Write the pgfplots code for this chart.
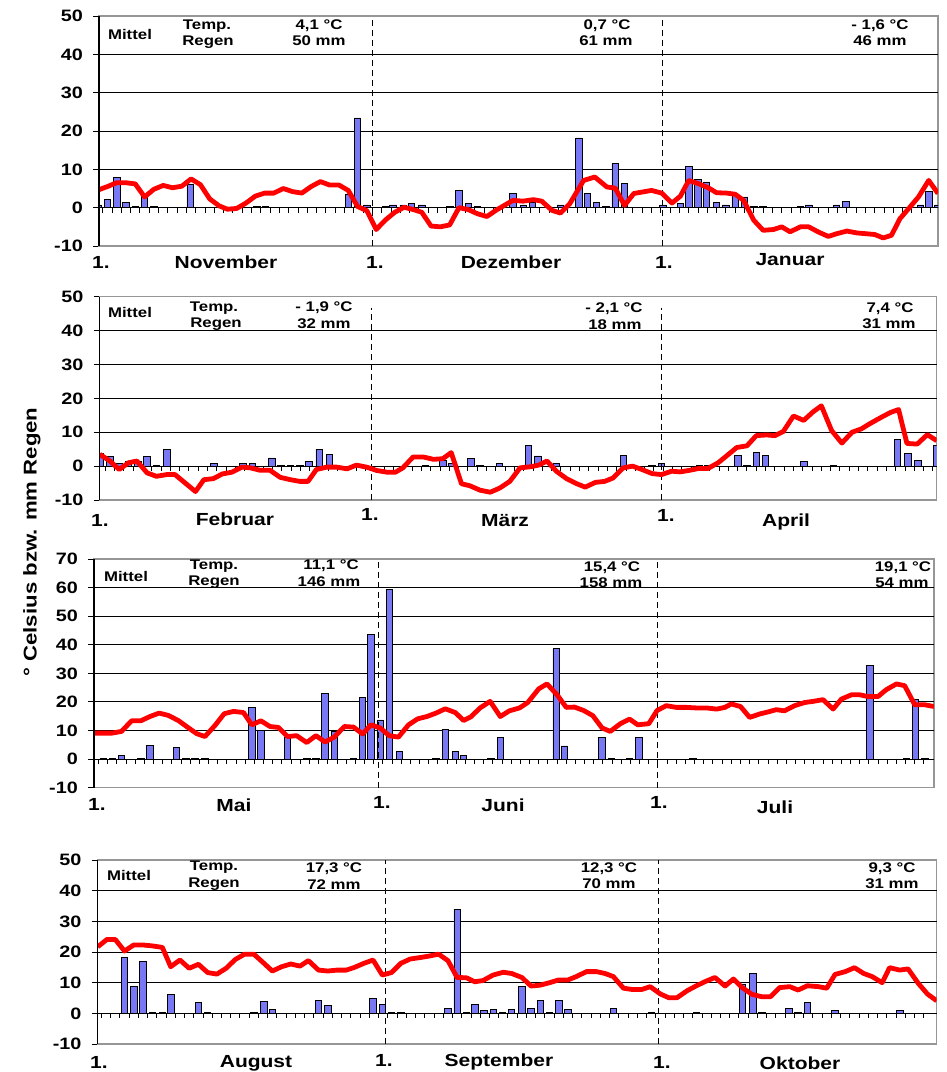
\documentclass[border=0pt]{standalone}
\usepackage{fontspec}
\setmainfont{Liberation Sans}[FakeStretch=1.2]
\usepackage{pgfplots}
\pgfplotsset{compat=1.18}
\definecolor{barblue}{RGB}{120,120,245}
\definecolor{framegray}{RGB}{150,150,150}
\pgfplotsset{
 panel/.style={
  scale only axis, anchor=south west,
  xmin=0, ymin=-10,
  axis line style={draw=framegray, line width=1.5pt},
  xtick=\empty,
  ytick pos=left,
  tick align=outside,
  major tick length=6pt,
  y tick style={black, line width=1pt},
  yticklabel style={font=\fontsize{16.5}{16.5}\selectfont\bfseries, anchor=east, inner sep=0pt, xshift=-10pt},
  clip mode=individual,
 },
 bars/.style={ybar, bar width=0.7, fill=barblue, draw=black, line width=0.8pt},
 temp/.style={red, line width=4.8pt, line join=round, mark=none},
}
\tikzset{
 grd/.style={black, line width=1pt},
 dsh/.style={black, line width=1pt, dash pattern=on 6pt off 4pt},
 tt/.style={anchor=base, font=\fontsize{14}{14}\selectfont\bfseries},
 ml/.style={anchor=base, font=\fontsize{17.5}{17.5}\selectfont\bfseries},
}
\begin{document}
\begin{tikzpicture}
\useasboundingbox (0,0) rectangle (947pt,-1072pt);

% ---------------- Panel 1: Nov - Jan
\begin{axis}[panel, at={(99pt,-246pt)}, width=839pt, height=230pt,
  xmax=90.2, ymax=50, ytick={-10,0,10,20,30,40,50}, yticklabels={-10,0,10,20,30,40,50}]
\pgfplotsinvokeforeach{10,20,30,40}{\draw[grd] (0,#1) -- (90.2,#1);}
\draw[grd] (0,0) -- (90.2,0);
\pgfplotsinvokeforeach{0,...,89}{\draw[grd] (#1.4,0) -- ++(0pt,-5pt);}
\addplot[bars] coordinates {(-0.1,0.7) (0.9,2.1) (1.9,8.0) (2.9,1.4) (3.9,0.3) (4.9,3.0) (5.9,0.3) (9.8,6.0) (17.0,0.3) (17.9,0.3) (26.8,3.5) (27.8,23.4) (28.8,0.7) (30.8,0.3) (31.6,0.7) (32.7,0.7) (33.6,1.0) (34.7,0.7) (37.7,0.3) (38.7,4.5) (39.7,1.0) (40.7,0.3) (44.5,3.8) (45.6,0.7) (46.6,1.3) (49.6,0.7) (51.6,18.2) (52.5,3.8) (53.5,1.4) (54.5,0.3) (55.5,11.5) (56.5,6.3) (60.6,0.7) (62.5,1.0) (63.4,10.8) (64.4,7.3) (65.3,6.7) (66.4,1.4) (67.4,0.7) (68.4,3.2) (69.4,2.8) (70.4,0.3) (71.4,0.3) (75.4,0.3) (76.3,0.7) (79.3,0.7) (80.3,1.7) (88.3,0.7) (89.2,4.2) (90.2,0.7)};
\draw[dsh] (29.4,-10) -- (29.4,50);
\draw[dsh] (60.6,-10) -- (60.6,50);
\addplot[temp] coordinates {(0,4.7) (0.9,5.5) (1.9,6.5) (2.9,6.5) (3.9,6.2) (4.9,2.8) (5.9,4.8) (6.9,5.8) (7.9,5.2) (8.9,5.6) (9.9,7.5) (10.9,6.0) (11.9,2.3) (12.9,0.5) (13.8,-0.4) (14.8,-0.2) (15.8,1.2) (16.8,3.0) (17.8,3.8) (18.8,3.8) (19.8,5.0) (20.8,4.2) (21.8,3.8) (22.8,5.5) (23.8,6.8) (24.8,5.9) (25.8,5.9) (26.8,4.5) (27.8,0.3) (28.8,-0.8) (29.8,-5.7) (30.8,-3.2) (31.8,-1.2) (32.8,0.1) (33.8,-0.5) (34.7,-1.2) (35.7,-4.8) (36.7,-5.0) (37.7,-4.5) (38.7,0) (39.7,-0.5) (40.7,-1.6) (41.7,-2.3) (42.8,-0.5) (44.5,1.9) (45.6,1.7) (46.7,2.1) (47.6,1.7) (48.7,-0.7) (49.6,-1.4) (50.6,1.0) (52.1,7.1) (53.3,8.0) (54.6,5.4) (55.5,5.1) (56.5,0.6) (57.5,3.7) (59.4,4.5) (60.5,3.8) (61.6,1.2) (62.5,3.0) (63.4,7.1) (64.4,6.3) (65.5,5.2) (66.4,3.9) (67.5,3.8) (68.4,3.5) (69.3,1.9) (70.4,-3.3) (71.4,-5.9) (72.5,-5.7) (73.4,-5.0) (74.3,-6.3) (75.4,-5.0) (76.3,-5.0) (77.3,-6.3) (78.4,-7.5) (79.3,-6.8) (80.4,-6.1) (81.5,-6.6) (82.5,-6.8) (83.4,-7.0) (84.3,-7.9) (85.2,-7.2) (86.1,-2.9) (87.2,0.2) (88.1,2.8) (89.2,7.1) (90.2,3.7)};
\draw[black, line width=1.5pt] (rel axis cs:0,0) -- (rel axis cs:0,1);
\end{axis}
\node[tt] at (130pt,-39.5pt) {Mittel};
\node[tt] at (207pt,-29.5pt) {Temp.};
\node[tt] at (208pt,-45.5pt) {Regen};
\node[tt] at (319pt,-29.5pt) {4,1 °C};
\node[tt] at (319pt,-45.5pt) {50 mm};
\node[tt] at (607pt,-29.5pt) {0,7 °C};
\node[tt] at (606pt,-45.5pt) {61 mm};
\node[tt] at (880pt,-29.5pt) {- 1,6 °C};
\node[tt] at (880pt,-45.5pt) {46 mm};
\node[ml] at (101pt,-268pt) {1.};
\node[ml] at (226pt,-268pt) {November};
\node[ml] at (375pt,-268pt) {1.};
\node[ml] at (511pt,-268pt) {Dezember};
\node[ml] at (664pt,-268pt) {1.};
\node[ml] at (790pt,-265pt) {Januar};

% ---------------- Panel 2: Feb - Apr
\begin{axis}[panel, at={(99.7pt,-500pt)}, width=837pt, height=203.3pt,
  xmax=90.0, ymax=50, ytick={-10,0,10,20,30,40,50}, yticklabels={-10,0,10,20,30,40,50}]
\pgfplotsinvokeforeach{10,20,30,40}{\draw[grd] (0,#1) -- (90.0,#1);}
\draw[grd] (0,0) -- (90.0,0);
\pgfplotsinvokeforeach{0,...,89}{\draw[grd] (#1.6,0) -- ++(0pt,-5pt);}
\addplot[bars] coordinates {(0.1,3.8) (1.1,2.8) (2.1,0.9) (3.1,1.5) (4.1,1.3) (5.1,2.8) (6.1,0.3) (7.2,4.8) (12.3,0.7) (15.4,0.7) (16.4,0.7) (18.5,2.4) (19.5,0.3) (20.5,0.3) (21.5,0.3) (22.5,1.5) (23.6,5.0) (24.7,3.5) (35.0,0.3) (36.9,1.8) (37.8,0.7) (39.9,2.3) (40.9,0.3) (43.0,0.7) (46.1,6.0) (47.1,3.0) (49.1,0.7) (56.3,3.2) (59.4,0.3) (60.4,0.7) (64.5,0.3) (65.4,0.3) (68.6,3.2) (69.6,0.3) (70.6,4.0) (71.6,3.2) (75.7,1.3) (78.9,0.3) (85.8,8.0) (86.9,3.7) (88.0,1.6) (90.0,6.0)};
\draw[dsh] (29.2,-10) -- (29.2,46.7);
\draw[dsh] (60.4,-10) -- (60.4,46.7);
\addplot[temp] coordinates {(0,3.5) (1.1,1.5) (2.1,-1.0) (3.1,1.0) (4.0,1.5) (5.1,-2.0) (6.1,-3.0) (7.2,-2.5) (8.1,-2.5) (9.2,-5.0) (10.3,-7.5) (11.2,-4.0) (12.2,-3.7) (13.2,-2.3) (14.2,-1.8) (15.3,-0.3) (16.2,-0.5) (17.2,-1.2) (18.3,-1.2) (19.4,-3.3) (20.5,-4.0) (21.5,-4.5) (22.4,-4.5) (23.3,-1.0) (24.4,-0.3) (25.5,-0.3) (26.6,-0.8) (27.6,0.3) (28.7,-0.3) (29.8,-1.3) (30.9,-1.8) (31.8,-1.8) (32.6,-0.5) (33.7,2.7) (34.8,2.7) (35.9,2.0) (36.9,2.2) (37.8,4.0) (38.9,-5.2) (39.8,-5.8) (40.9,-7.1) (42.0,-7.7) (43.0,-6.5) (44.1,-4.5) (45.2,-0.5) (46.3,-0.2) (47.2,0.3) (48.1,1.5) (49.1,-1.5) (50.2,-3.7) (51.3,-5.2) (52.2,-6.2) (53.3,-4.8) (54.3,-4.5) (55.2,-3.5) (56.3,-0.5) (57.3,0) (58.3,-1.0) (59.4,-2.2) (60.4,-2.5) (61.5,-1.5) (62.4,-1.7) (63.3,-1.3) (64.4,-0.7) (65.4,-0.7) (66.5,1.0) (67.4,3.0) (68.5,5.5) (69.6,6.0) (70.6,9.0) (71.7,9.2) (72.6,9.0) (73.5,10.2) (74.6,14.8) (75.7,13.5) (76.7,16.0) (77.6,17.8) (78.7,10.5) (79.8,6.8) (80.9,10.0) (81.9,11.0) (82.8,12.5) (83.9,14.2) (85.0,15.8) (85.9,16.7) (86.8,6.7) (87.9,6.5) (89.0,9.3) (90.0,7.5)};
\draw[black, line width=1.5pt] (rel axis cs:0,0) -- (rel axis cs:0,1);
\end{axis}
\node[tt] at (130pt,-317.5pt) {Mittel};
\node[tt] at (214pt,-311pt) {Temp.};
\node[tt] at (216pt,-327.5pt) {Regen};
\node[tt] at (324pt,-311.5pt) {- 1,9 °C};
\node[tt] at (324pt,-328pt) {32 mm};
\node[tt] at (614pt,-312.5pt) {- 2,1 °C};
\node[tt] at (615pt,-329pt) {18 mm};
\node[tt] at (890pt,-312pt) {7,4 °C};
\node[tt] at (889pt,-328pt) {31 mm};
\node[ml] at (100pt,-526.5pt) {1.};
\node[ml] at (235pt,-525pt) {Februar};
\node[ml] at (370pt,-520.5pt) {1.};
\node[ml] at (505pt,-526.5pt) {März};
\node[ml] at (666pt,-521.5pt) {1.};
\node[ml] at (786pt,-526pt) {April};

% ---------------- Panel 3: May - Jul
\begin{axis}[panel, at={(94pt,-787.7pt)}, width=840pt, height=228.7pt,
  xmax=91.6, ymax=70, ytick={-10,0,10,20,30,40,50,60,70}, yticklabels={-10,0,10,20,30,40,50,60,70}]
\pgfplotsinvokeforeach{10,20,30,40,50,60}{\draw[grd] (0,#1) -- (91.6,#1);}
\draw[grd] (0,0) -- (91.6,0);
\pgfplotsinvokeforeach{0,...,90}{\draw[grd] (#1.5,0) -- ++(0pt,-5pt);}
\addplot[bars] coordinates {(1.0,0.3) (2.0,0.3) (3.0,1.3) (5.1,0.3) (6.1,4.7) (9.0,4.2) (10.0,0.3) (11.0,0.3) (12.1,0.3) (17.2,18.2) (18.2,9.9) (21.1,7.7) (23.2,0.3) (24.2,0.3) (25.2,22.9) (26.2,9.7) (28.3,0.3) (29.3,21.5) (30.2,43.5) (31.2,13.7) (32.2,59.3) (33.3,2.8) (37.3,0.3) (38.3,10.3) (39.4,2.8) (40.3,1.4) (43.3,0.3) (44.3,7.7) (50.4,38.6) (51.3,4.6) (55.4,7.5) (56.4,0.3) (58.4,0.3) (59.4,7.5) (65.3,0.3) (84.6,32.7) (88.6,0.3) (89.6,20.8) (90.6,0.3)};
\draw[dsh] (31.0,-10) -- (31.0,70);
\draw[dsh] (61.5,-10) -- (61.5,70);
\addplot[temp] coordinates {(0,9.1) (1.0,9.1) (2.0,9.1) (3.0,9.7) (4.1,13.4) (5.1,13.4) (6.1,14.9) (7.1,16.1) (8.1,15.3) (9.2,13.5) (10.1,11.4) (11.2,8.9) (12.1,7.9) (13.2,11.8) (14.2,15.9) (15.2,16.7) (16.3,16.3) (17.2,12.0) (18.2,13.4) (19.2,11.4) (20.1,11.1) (21.1,7.9) (22.1,8.2) (23.2,5.8) (24.2,8.2) (25.2,6.0) (26.2,7.7) (27.3,11.4) (28.3,11.2) (29.3,8.8) (30.2,12.0) (31.2,10.9) (32.2,8.2) (33.2,7.7) (34.3,12.0) (35.3,14.1) (36.3,14.9) (37.3,16.1) (38.3,17.6) (39.4,16.3) (40.3,13.5) (41.1,14.8) (42.1,17.9) (43.2,20.2) (44.3,14.9) (45.3,16.9) (46.4,17.9) (47.3,19.8) (48.5,24.6) (49.4,26.3) (50.5,22.5) (51.5,18.1) (52.4,18.2) (53.4,17.0) (54.4,15.2) (55.4,10.9) (56.3,9.7) (57.4,12.4) (58.4,14.0) (59.3,12.0) (60.5,12.4) (61.4,17.0) (62.4,18.7) (63.5,18.1) (64.6,18.1) (65.7,17.9) (66.8,17.9) (67.9,17.5) (68.8,18.1) (69.5,19.3) (70.5,18.4) (71.5,14.6) (72.6,15.8) (73.5,16.5) (74.4,17.3) (75.3,16.9) (76.4,18.7) (77.5,19.8) (78.4,20.2) (79.5,20.8) (80.6,17.5) (81.5,21.0) (82.6,22.5) (83.5,22.5) (84.4,21.9) (85.5,21.9) (86.4,24.3) (87.5,26.3) (88.4,25.7) (89.5,19.0) (90.6,19.0) (91.6,18.4)};
\draw[black, line width=1.5pt] (rel axis cs:0,0) -- (rel axis cs:0,1);
\end{axis}
\node[tt] at (126pt,-581pt) {Mittel};
\node[tt] at (214pt,-569pt) {Temp.};
\node[tt] at (214pt,-585.5pt) {Regen};
\node[tt] at (331pt,-569.5pt) {11,1 °C};
\node[tt] at (329pt,-586pt) {146 mm};
\node[tt] at (612pt,-571pt) {15,4 °C};
\node[tt] at (611pt,-587.5pt) {158 mm};
\node[tt] at (903pt,-571pt) {19,1 °C};
\node[tt] at (902pt,-587.5pt) {54 mm};
\node[ml] at (97pt,-810pt) {1.};
\node[ml] at (234pt,-811.5pt) {Mai};
\node[ml] at (382pt,-808pt) {1.};
\node[ml] at (503pt,-811.5pt) {Juni};
\node[ml] at (659pt,-808pt) {1.};
\node[ml] at (775pt,-813pt) {Juli};

% ---------------- Panel 4: Aug - Oct
\begin{axis}[panel, at={(97.7pt,-1044pt)}, width=839pt, height=184pt,
  xmax=90.8, ymax=50, ytick={-10,0,10,20,30,40,50}, yticklabels={-10,0,10,20,30,40,50}]
\pgfplotsinvokeforeach{10,20,30,40}{\draw[grd] (0,#1) -- (90.8,#1);}
\draw[grd] (0,0) -- (90.8,0);
\pgfplotsinvokeforeach{0,...,89}{\draw[grd] (#1.4,0) -- ++(0pt,-5pt);}
\addplot[bars] coordinates {(2.9,18.3) (3.9,8.7) (4.9,17.0) (5.9,0.3) (7.0,0.3) (7.9,6.1) (10.9,3.5) (11.9,0.3) (16.9,0.3) (18.0,3.9) (18.9,1.2) (23.9,4.2) (24.9,2.6) (29.8,4.8) (30.8,3.0) (31.8,0.3) (32.8,0.3) (37.9,1.7) (38.9,33.9) (39.9,0.3) (40.8,3.0) (41.8,0.8) (42.8,1.2) (43.8,0.3) (44.8,1.2) (45.9,8.9) (46.9,1.7) (47.9,4.3) (48.9,0.3) (49.9,4.3) (50.9,1.3) (55.8,1.7) (59.9,0.3) (64.8,0.3) (69.8,9.6) (70.9,13.0) (71.9,0.3) (74.8,1.7) (75.8,0.3) (76.8,3.5) (79.8,0.8) (86.8,0.8)};
\draw[dsh] (31.1,-10) -- (31.1,50);
\draw[dsh] (60.7,-10) -- (60.7,50);
\addplot[temp] coordinates {(0,21.7) (1.0,24.1) (1.9,24.1) (2.9,20.3) (3.9,22.3) (4.9,22.3) (5.9,22.0) (7.0,21.5) (7.9,15.2) (8.9,17.4) (9.9,14.7) (10.9,16.0) (11.9,13.3) (12.9,12.8) (13.9,14.7) (14.9,17.6) (15.9,19.3) (16.9,19.3) (18.0,16.3) (18.9,13.8) (19.9,15.2) (20.9,16.1) (21.9,15.4) (22.8,17.2) (23.9,14.1) (24.9,13.8) (25.9,14.1) (26.9,14.1) (27.8,15.0) (28.8,16.3) (29.8,17.4) (30.8,12.5) (31.8,13.3) (32.8,16.3) (33.8,17.7) (34.9,18.2) (35.9,18.7) (36.9,19.3) (37.9,17.2) (38.9,11.7) (39.9,11.6) (40.8,10.3) (41.7,10.7) (42.8,12.5) (43.9,13.4) (44.8,13.0) (45.9,11.7) (46.9,8.9) (47.9,9.2) (48.9,10.0) (49.9,10.9) (50.9,10.9) (51.8,12.0) (52.9,13.6) (54.0,13.6) (54.9,13.0) (55.8,12.0) (56.9,8.2) (57.8,7.8) (58.9,7.8) (59.8,8.7) (60.9,6.3) (61.8,5.1) (62.7,5.1) (63.8,7.4) (64.8,9.0) (65.7,10.3) (66.8,11.7) (67.9,8.9) (68.8,11.2) (69.7,8.5) (70.8,6.2) (71.9,5.4) (72.8,5.4) (73.8,8.4) (74.9,8.7) (75.8,7.6) (76.8,9.0) (78.0,8.7) (78.9,8.2) (79.8,12.7) (80.9,13.6) (81.9,14.9) (82.9,13.0) (83.8,12.0) (84.9,10.0) (85.7,14.9) (86.8,14.1) (87.7,14.5) (88.8,9.8) (89.8,6.3) (90.8,4.1)};
\draw[black, line width=1.5pt] (rel axis cs:0,0) -- (rel axis cs:0,1);
\end{axis}
\node[tt] at (129pt,-880pt) {Mittel};
\node[tt] at (214pt,-870.5pt) {Temp.};
\node[tt] at (214pt,-887pt) {Regen};
\node[tt] at (334pt,-872.5pt) {17,3 °C};
\node[tt] at (334pt,-889.5pt) {72 mm};
\node[tt] at (609pt,-872pt) {12,3 °C};
\node[tt] at (609pt,-888pt) {70 mm};
\node[tt] at (892pt,-872pt) {9,3 °C};
\node[tt] at (892pt,-888pt) {31 mm};
\node[ml] at (99pt,-1068pt) {1.};
\node[ml] at (256pt,-1067pt) {August};
\node[ml] at (384pt,-1066.5pt) {1.};
\node[ml] at (499pt,-1066pt) {September};
\node[ml] at (662pt,-1068pt) {1.};
\node[ml] at (800pt,-1069pt) {Oktober};

\node[rotate=90, font=\fontsize{18.5}{18.5}\selectfont\bfseries] at (32pt,-542pt) {° Celsius bzw. mm Regen};
\end{tikzpicture}
\end{document}
